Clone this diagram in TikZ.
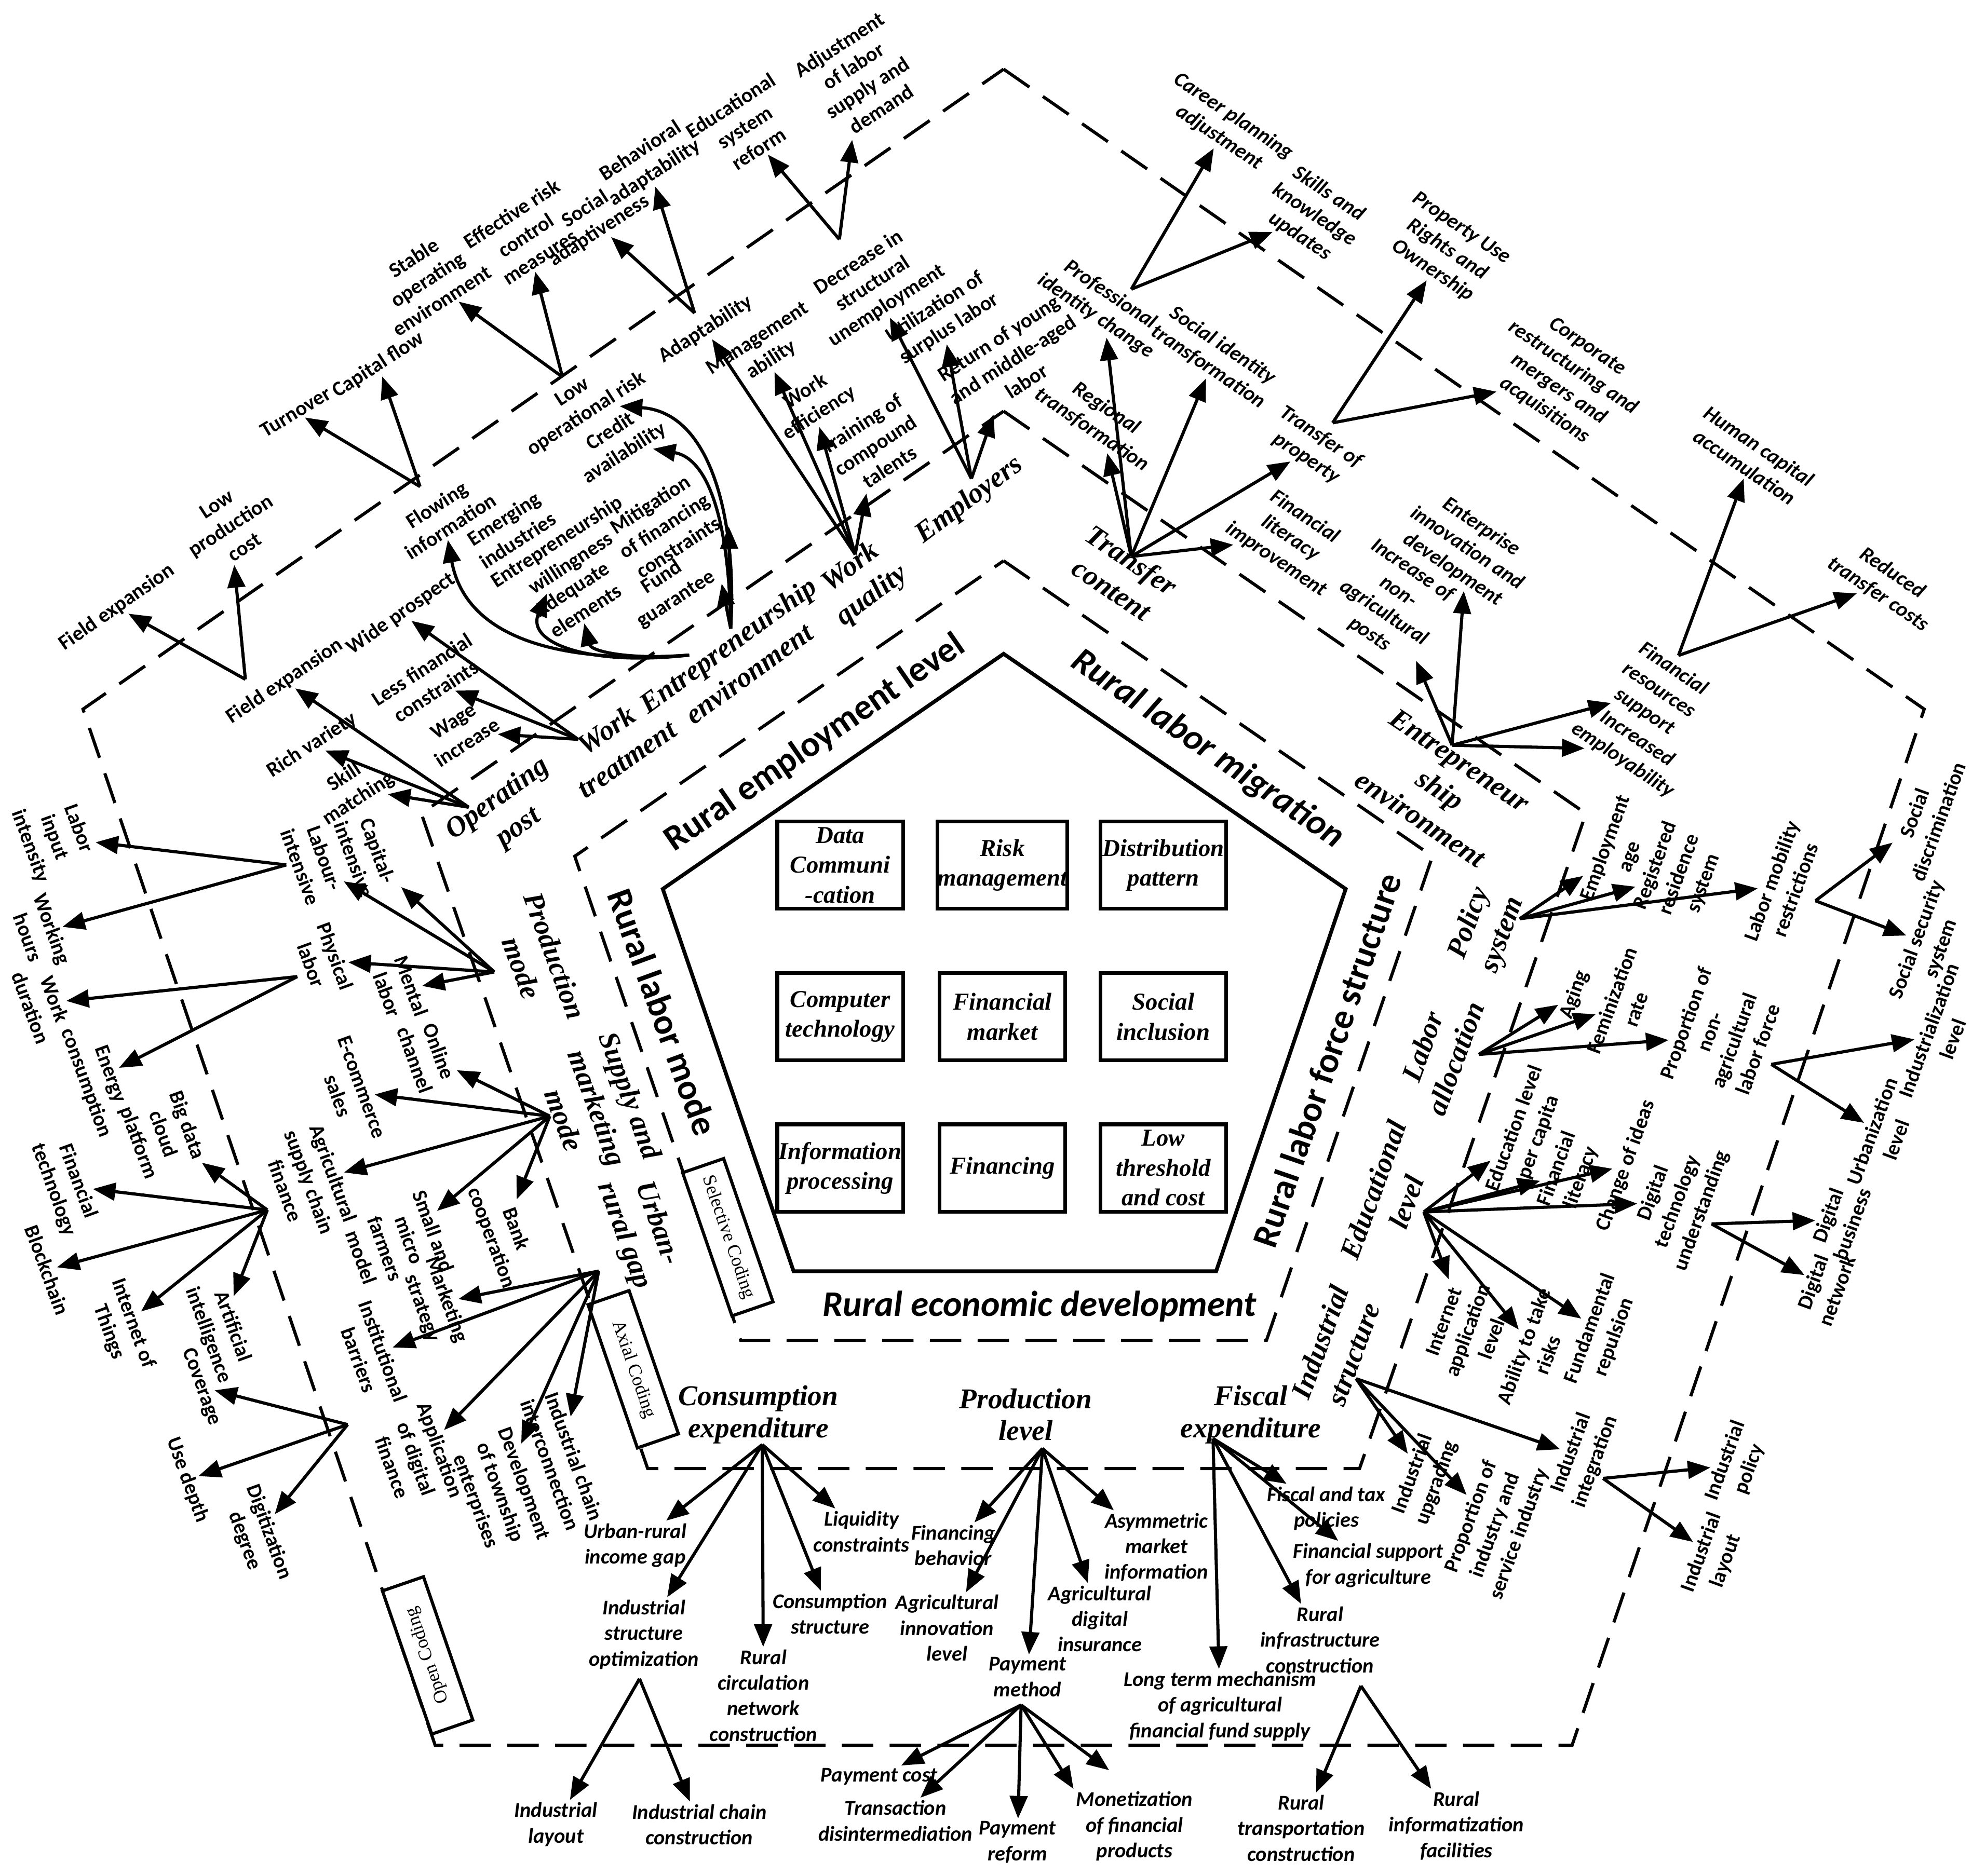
\documentclass[tikz,border=0pt]{standalone}
\usepackage{fontspec}
\usetikzlibrary{arrows.meta}
\newfontfamily\carlito{Carlito}
\newfontfamily\tnr{Liberation Serif}
\newcommand\labf{\carlito\bfseries\fontsize{9.5}{11.6}\selectfont}
\newcommand\labfi{\carlito\bfseries\itshape\fontsize{9.5}{11.6}\selectfont}
\newcommand\catf{\tnr\bfseries\itshape\fontsize{13}{16}\selectfont}
\newcommand\catbf{\tnr\bfseries\itshape\fontsize{13}{14.5}\selectfont}
\newcommand\bigf{\carlito\bfseries\fontsize{16.3}{18}\selectfont}
\newcommand\bigfi{\carlito\bfseries\itshape\fontsize{16.3}{18}\selectfont}
\newcommand\cellf{\tnr\bfseries\itshape\fontsize{11}{13.5}\selectfont}
\newcommand\codef{\tnr\fontsize{8.5}{10}\selectfont}
\tikzset{
    LB/.style ={font=\labf, align=center, inner sep=1pt},
    LI/.style ={font=\labfi, align=center, inner sep=1pt},
    CT/.style ={font=\catf, align=center, inner sep=1pt},
    CTB/.style ={font=\catbf, align=center, inner sep=1pt},
    BG/.style ={font=\bigf, inner sep=1pt},
    BGI/.style ={font=\bigfi, inner sep=1pt},
    BX/.style ={draw, line width=0.06cm, minimum width=2cm, minimum height=1.39cm, font=\cellf, align=center, inner sep=0pt},
    CD/.style ={draw, fill=white, line width=0.05cm, minimum width=2.41cm, minimum height=0.69cm, font=\codef, inner sep=0pt},
    AR/.style ={line width=0.05cm, -{Triangle[length=0.36cm, width=0.28cm]}},
    DS/.style ={line width=0.05cm, dash pattern=on 0.5cm off 0.26cm},
    SO/.style ={line width=0.06cm}}
\begin{document}
\begin{tikzpicture}[x=0.02cm,y=-0.02cm]
        \useasboundingbox (0,0) rectangle (1568,1492);
        \draw[DS] (798,55) -- (1530,564) -- (1250,1388) -- (346,1388) -- (66,564) -- cycle;
        \draw[DS] (798,327) -- (1261,647) -- (1081,1168) -- (515,1168) -- (335,647) -- cycle;
        \draw[DS] (798,446) -- (1139,681) -- (1007,1066) -- (589,1066) -- (457,681) -- cycle;
        \draw[SO] (798,520) -- (1070,707) -- (967,1011) -- (631,1011) -- (527,707) -- cycle;
        \node[CD,rotate=-71] (sc) at(578.7,984){Selective Coding};
        \node[CD,rotate=-71] (ac) at(503.5,1089){Axial Coding};
        \node[CD,rotate=109] (oc) at(340,1316.6){Open Coding};
        \node[BG,rotate=34.6] (rel) at(648,591){Rural employment level};
        \node[BGI,rotate=-34.6] (rlm) at(960,596){Rural labor migration};
        \node[BG,rotate=71] (rlf) at(1055,843){Rural labor force structure};
        \node[BG,rotate=-70] (rmo) at(527,805){Rural labor mode};
        \node[BGI] (red) at(826.6,1039){Rural economic development};
        \node[BX] (b1) at(668,688){Data\\Communi\\-cation};
        \node[BX] (b2) at(797,688){Risk\\management};
        \node[BX] (b3) at(925,688){Distribution\\pattern};
        \node[BX] (b4) at(668,808.5){Computer\\technology};
        \node[BX] (b5) at(797,808.5){Financial\\market};
        \node[BX] (b6) at(925,808.5){Social\\inclusion};
        \node[BX] (b7) at(668,929){Information\\processing};
        \node[BX] (b8) at(797,929){Financing};
        \node[BX] (b9) at(925,929){Low\\threshold\\and cost};
        \node[CT,rotate=35] (wt) at(490,592){Work\\treatment};
        \node[CT,rotate=36] (eel) at(587,524){Entrepreneurship\\environment};
        \node[CT,rotate=37] (wq) at(685,463){Work\\quality};
        \node[CT,rotate=37] (emp) at(771,398){Employers};
        \node[CT,rotate=36] (op) at(404,647){Operating\\post};
        \node[CT,rotate=-70] (pm) at(428,765){Production\\mode};
        \node[CT,rotate=-70] (smm) at(475,881){Supply and\\marketing\\mode};
        \node[CT,rotate=-70] (urg) at(509,978){Urban-\\rural gap};
        \node[CTB] (ce) at(603,1125){Consumption\\expenditure};
        \node[CTB] (pl) at(815.5,1125){Production\\level};
        \node[CTB] (fe) at(994.5,1125){Fiscal\\expenditure};
        \node[CT,rotate=70] (is) at(1062.7,1072){Industrial\\structure};
        \node[CT,rotate=70] (el) at(1105,951){Educational\\level};
        \node[CT,rotate=70] (la) at(1144,837){Labor\\allocation};
        \node[CT,rotate=70] (ps) at(1182,739){Policy\\system};
        \node[CT,rotate=-34] (eer) at(1145,628){Entrepreneur\\ship\\environment};
        \node[CT,rotate=-34] (tc) at(892,457){Transfer\\content};
        \coordinate (hWT) at(459.7,588);
        \coordinate (hOP) at(372.7,642);
        \coordinate (hEEa) at(581,500);
        \coordinate (hEEb) at(548,521);
        \coordinate (hWQ) at(680,441);
        \coordinate (hEM) at(772.4,380.7);
        \coordinate (hTC) at(899.5,442.6);
        \coordinate (hEER) at(1154.6,592.7);
        \coordinate (hPS) at(1208.3,730.7);
        \coordinate (hLA) at(1175.8,838.6);
        \coordinate (hEL) at(1132.1,963.9);
        \coordinate (hIS) at(1078.3,1096.5);
        \coordinate (hFE) at(964.5,1144.1);
        \coordinate (hPL) at(828.9,1152);
        \coordinate (hCE) at(606.1,1148.9);
        \coordinate (hUG) at(476,1010.9);
        \coordinate (hSM) at(437.2,887.7);
        \coordinate (hPM) at(393,773);
        \coordinate (hFX) at(195.1,540.3);
        \coordinate (hFI) at(334,387);
        \coordinate (hLR) at(447.2,299.8);
        \coordinate (hAD) at(552.3,249);
        \coordinate (hDS) at(667.4,190.4);
        \coordinate (hPI) at(899.5,230);
        \coordinate (hTP) at(1059.6,336.3);
        \coordinate (hFR) at(1334.6,521.3);
        \coordinate (hLM) at(1443.5,716.4);
        \coordinate (hPN) at(1408.4,846.5);
        \coordinate (hDT) at(1360.9,973.4);
        \coordinate (hII) at(1274.6,1175.8);
        \coordinate (hRI) at(1082.1,1340.8);
        \coordinate (hPY) at(811.9,1356);
        \coordinate (hIO) at(508.5,1335.1);
        \coordinate (hDF) at(276.4,1133);
        \coordinate (hAS) at(212.6,962.3);
        \coordinate (hLI) at(227.6,687.9);
        \coordinate (hPH) at(236.4,776.7);
        \node[LB,rotate=35] (fexo) at(93,483){Field expansion};
        \node[LB,rotate=33] (lpc) at(183.2,418){Low\\production\\cost};
        \node[LB,rotate=34] (fexi) at(226.4,541.8){Field expansion};
        \node[LB,rotate=31] (turn) at(235,327.6){Turnover};
        \node[LB,rotate=33] (capf) at(300.8,290.3){Capital flow};
        \node[LB,rotate=33] (flow) at(352.6,410){Flowing\\information};
        \node[LB,rotate=33] (stab) at(340,222){Stable\\operating\\environment};
        \node[LB,rotate=33] (effr) at(418,187){Effective risk\\control\\measures};
        \node[LB,rotate=33] (lowr) at(461,321){Low\\operational risk};
        \node[LB,rotate=33] (soca) at(471,175){Social\\adaptiveness};
        \node[LB,rotate=33] (beha) at(515,129){Behavioral\\adaptability};
        \node[LB,rotate=33] (adap) at(561,262){Adaptability};
        \node[LB,rotate=33] (edus) at(592,101){Educational\\system\\reform};
        \node[LB,rotate=33] (adjl) at(684,61){Adjustment\\of labor\\supply and\\demand};
        \node[LB,rotate=33] (mana) at(608,278){Management\\ability};
        \node[LB,rotate=33] (decr) at(694,226){Decrease in\\structural\\unemployment};
        \node[LB,rotate=33] (wkef) at(646,320){Work\\efficiency};
        \node[LB,rotate=33] (trai) at(696,354){Training of\\compound\\talents};
        \node[LB,rotate=33] (util) at(749,253){Utilization of\\surplus labor};
        \node[LB,rotate=33] (retn) at(805,286){Return of young\\and middle-aged\\labor};
        \node[LB,rotate=33] (cred) at(491,352){Credit\\availability};
        \node[LB,rotate=33] (miti) at(528,418){Mitigation\\of financing\\constraints};
        \node[LB,rotate=33] (fund) at(532,468){Fund\\guarantee};
        \node[LB,rotate=33] (adeq) at(460,477){Adequate\\elements};
        \node[LB,rotate=33] (will) at(448.5,440){Entrepreneurship\\willingness};
        \node[LB,rotate=33] (emer) at(406,421){Emerging\\industries};
        \node[LB,rotate=35] (wide) at(319,488){Wide prospect};
        \node[LB,rotate=33] (lesf) at(341,541){Less financial\\constraints};
        \node[LB,rotate=33] (wage) at(366,582){Wage\\increase};
        \node[LB,rotate=33] (rich) at(248,592.7){Rich variety};
        \node[LB,rotate=33] (skma) at(279.5,627){Skill\\matching};
        \node[LI,rotate=-34] (regt) at(874,333){Regional\\transformation};
        \node[LI,rotate=-34] (prof) at(877,243){Professional\\identity change};
        \node[LI,rotate=-34] (soci) at(966.5,283){Social identity\\transformation};
        \node[LI,rotate=-34] (tpro) at(1044.5,356){Transfer of\\property};
        \node[LI,rotate=-34] (finl) at(1026,428){Financial\\literacy\\improvement};
        \node[LI,rotate=-34] (carp) at(975,101){Career planning\\adjustment};
        \node[LI,rotate=-34] (skku) at(1045,171){Skills and\\knowledge\\updates};
        \node[LI,rotate=-34] (prop) at(1150.5,198.6){Property Use\\Rights and\\Ownership};
        \node[LI,rotate=-34] (corp) at(1245,301){Corporate\\restructuring and\\mergers and\\acquisitions};
        \node[LI,rotate=-34] (incp) at(1106,479){Increase of\\non-\\agricultural\\posts};
        \node[LI,rotate=-34] (entp) at(1166.5,436){Enterprise\\innovation and\\development};
        \node[LI,rotate=-34] (finr) at(1319,549){Financial\\resources\\support};
        \node[LI,rotate=-34] (ince) at(1296,596){Increased\\employability};
        \node[LI,rotate=-34] (humc) at(1393,363){Human capital\\accumulation};
        \node[LI,rotate=-34] (redt) at(1499,464){Reduced\\transfer costs};
        \node[LB,rotate=70] (empa) at(1286.5,678){Employment\\age};
        \node[LB,rotate=70] (regr) at(1335.5,695.5){Registered\\residence\\system};
        \node[LB,rotate=70] (labm) at(1418,704){Labor mobility\\restrictions};
        \node[LB,rotate=70] (socd) at(1531.6,650){Social\\discrimination};
        \node[LB,rotate=70] (socs) at(1534,751){Social security\\system};
        \node[LB,rotate=70] (agin) at(1252,791){Aging};
        \node[LB,rotate=70] (femi) at(1291,799){Feminization\\rate};
        \node[LB,rotate=70] (pnon) at(1369,824){Proportion of\\non-\\agricultural\\labor force};
        \node[LB,rotate=70] (indz) at(1543,823){Industrialization\\level};
        \node[LB,rotate=70] (urbz) at(1498,903){Urbanization\\level};
        \node[LB,rotate=70] (edpc) at(1214,901){Education level\\per capita};
        \node[LB,rotate=70] (fili) at(1247.6,933){Financial\\literacy};
        \node[LB,rotate=70] (chid) at(1293,927){Change of ideas};
        \node[LB,rotate=70] (digt) at(1334,956){Digital\\technology\\understanding};
        \node[LB,rotate=70] (digb) at(1463,970){Digital\\business};
        \node[LB,rotate=70] (dign) at(1451,1023){Digital\\network};
        \node[LB,rotate=70] (inet) at(1167,1058){Internet\\application\\level};
        \node[LB,rotate=70] (abil) at(1221,1074){Ability to take\\risks};
        \node[LB,rotate=70] (fure) at(1274,1060){Fundamental\\repulsion};
        \node[LB,rotate=70] (indu) at(1133,1176){Industrial\\upgrading};
        \node[LB,rotate=70] (pind) at(1189,1213){Proportion of\\industry and\\service industry};
        \node[LB,rotate=70] (indi) at(1259,1159){Industrial\\integration};
        \node[LB,rotate=70] (indp) at(1381.5,1165){Industrial\\policy};
        \node[LB,rotate=70] (indl) at(1362.7,1238){Industrial\\layout};
        \node[LI] (urin) at(505,1229){Urban-rural\\income gap};
        \node[LI] (isop) at(512,1300){Industrial\\structure\\optimization};
        \node[LI] (rcir) at(607,1348.4){Rural\\circulation\\network\\construction};
        \node[LI] (cstr) at(660,1283.4){Consumption\\structure};
        \node[LI] (liqc) at(685,1218){Liquidity\\constraints};
        \node[LI] (ilay) at(442,1451){Industrial\\layout};
        \node[LI] (icco) at(556,1451){Industrial chain\\construction};
        \node[LI] (finb) at(758,1229){Financing\\behavior};
        \node[LI] (agri) at(753,1294.8){Agricultural\\innovation\\level};
        \node[LI] (paym) at(817,1333.7){Payment\\method};
        \node[LI] (agdi) at(874.5,1287.4){Agricultural\\digital\\insurance};
        \node[LI] (asym) at(919.5,1230.5){Asymmetric\\market\\information};
        \node[LI] (payc) at(699,1413){Payment cost};
        \node[LI] (tran) at(712,1448){Transaction\\disintermediation};
        \node[LI] (payr) at(809,1465){Payment\\reform};
        \node[LI] (mone) at(902,1452.4){Monetization\\of financial\\products};
        \node[LI] (fisc) at(1054.6,1199.6){Fiscal and tax\\policies};
        \node[LI] (fins) at(1088,1245){Financial support\\for agriculture};
        \node[LI] (rinf) at(1049.6,1304){Rural\\infrastructure\\construction};
        \node[LI] (ltm) at(970,1357){Long term mechanism\\of agricultural\\financial fund supply};
        \node[LI] (rtra) at(1034.6,1454){Rural\\transportation\\construction};
        \node[LI] (rinz) at(1158,1452){Rural\\informatization\\facilities};
        \node[LB,rotate=-70] (capi) at(291,680){Capital-\\intensive};
        \node[LB,rotate=-70] (labi) at(248.5,686){Labour-\\intensive};
        \node[LB,rotate=-70] (phys) at(257,764){Physical\\labor};
        \node[LB,rotate=-70] (ment) at(317.5,787.6){Mental\\labor};
        \node[LB,rotate=-70] (onli) at(339.5,839.5){Online\\channel};
        \node[LB,rotate=-70] (ecom) at(278,868){E-commerce\\sales};
        \node[LB,rotate=-70] (agsc) at(246,940){Agricultural\\supply chain\\finance};
        \node[LB,rotate=-70] (smfm) at(316,989.5){Small and\\micro\\farmers\\model};
        \node[LB,rotate=-70] (bank) at(400,981){Bank\\cooperation};
        \node[LB,rotate=-70] (mkts) at(345,1037){Marketing\\strategy};
        \node[LB,rotate=-70] (inst) at(295,1078){Institutional\\barriers};
        \node[LB,rotate=-70] (appd) at(331,1160){Application\\of digital\\finance};
        \node[LB,rotate=-70] (devt) at(397,1187){Development\\of township\\enterprises};
        \node[LB,rotate=-70] (icin) at(447,1161.5){Industrial chain\\interconnection};
        \node[LB,rotate=-70] (lini) at(43,666){Labor\\input\\intensity};
        \node[LB,rotate=-70] (wkho) at(32,742){Working\\hours};
        \node[LB,rotate=-70] (wdur) at(34,798){Work\\duration};
        \node[LB,rotate=-70] (enco) at(77.5,858){Energy\\consumption};
        \node[LB,rotate=-70] (bigd) at(129,902){Big data\\cloud\\platform};
        \node[LB,rotate=-70] (fint) at(52,943){Financial\\technology};
        \node[LB,rotate=-70] (bloc) at(37.5,1010){Blockchain};
        \node[LB,rotate=-70] (iot) at(96,1056){Internet of\\Things};
        \node[LB,rotate=-70] (arti) at(175,1058.5){Artificial\\intelligence};
        \node[LB,rotate=-70] (cove) at(160,1103){Coverage};
        \node[LB,rotate=-70] (used) at(149,1177){Use depth};
        \node[LB,rotate=-70] (digi) at(204,1222){Digitization\\degree};
        \draw[AR] (hWT) --(wide);
        \draw[AR] (hWT) --(lesf);
        \draw[AR] (hWT) --(wage);
        \draw[AR] (hOP) --(fexi);
        \draw[AR] (hOP) --(rich);
        \draw[AR] (hOP) --(skma);
        \draw[AR] (hEEa) .. controls (586,420) and (568,328) .. (lowr);
        \draw[AR] (hEEa) .. controls (580,420) and (565,365) .. (cred);
        \draw[AR] (hEEa) --(miti.south east);
        \draw[AR] (hEEa) --(fund.south east);
        \draw[AR] (hEEb) .. controls (500,525) and (470,518) .. (adeq);
        \draw[AR] (hEEb) .. controls (470,530) and (418,512) .. (will);
        \draw[AR] (hEEb) .. controls (420,530) and (368,495) .. (flow);
        \draw[AR] (hWQ) --(adap);
        \draw[AR] (hWQ) --(mana);
        \draw[AR] (hWQ) --(wkef);
        \draw[AR] (hWQ) --(trai);
        \draw[AR] (hEM) --(decr);
        \draw[AR] (hEM) --(util);
        \draw[AR] (hEM) --(retn);
        \draw[AR] (hTC) --(regt);
        \draw[AR] (hTC) --(prof);
        \draw[AR] (hTC) --(soci);
        \draw[AR] (hTC) --(tpro);
        \draw[AR] (hTC) --(finl);
        \draw[AR] (hEER) --(incp);
        \draw[AR] (hEER) --(entp);
        \draw[AR] (hEER) --(finr);
        \draw[AR] (hEER) --(ince);
        \draw[AR] (hPS) --(empa);
        \draw[AR] (hPS) --(regr);
        \draw[AR] (hPS) --(labm);
        \draw[AR] (hLA) --(agin);
        \draw[AR] (hLA) --(femi);
        \draw[AR] (hLA) --(pnon);
        \draw[AR] (hEL) --(edpc);
        \draw[AR] (hEL) --(fili);
        \draw[AR] (hEL) --(chid);
        \draw[AR] (hEL) --(digt);
        \draw[AR] (hEL) --(inet);
        \draw[AR] (hEL) --(abil);
        \draw[AR] (hEL) --(fure);
        \draw[AR] (hIS) --(indu);
        \draw[AR] (hIS) --(pind);
        \draw[AR] (hIS) --(indi);
        \draw[AR] (hFE) --(fisc);
        \draw[AR] (hFE) --(fins);
        \draw[AR] (hFE) --(rinf);
        \draw[AR] (hFE) --(ltm);
        \draw[AR] (hPL) --(finb);
        \draw[AR] (hPL) --(agri);
        \draw[AR] (hPL) --(paym);
        \draw[AR] (hPL) --(agdi);
        \draw[AR] (hPL) --(asym);
        \draw[AR] (hCE) --(urin);
        \draw[AR] (hCE) --(isop);
        \draw[AR] (hCE) --(rcir);
        \draw[AR] (hCE) --(cstr);
        \draw[AR] (hCE) --(liqc);
        \draw[AR] (hUG) --(mkts);
        \draw[AR] (hUG) --(inst);
        \draw[AR] (hUG) --(appd);
        \draw[AR] (hUG) --(devt);
        \draw[AR] (hUG) --(icin);
        \draw[AR] (hSM) --(onli);
        \draw[AR] (hSM) --(ecom);
        \draw[AR] (hSM) --(agsc);
        \draw[AR] (hSM) --(smfm);
        \draw[AR] (hSM) --(bank);
        \draw[AR] (hPM) --(capi);
        \draw[AR] (hPM) --(labi);
        \draw[AR] (hPM) --(phys);
        \draw[AR] (hPM) --(ment);
        \draw[AR] (hFX) --(fexo);
        \draw[AR] (hFX) --(lpc);
        \draw[AR] (hFI) --(turn);
        \draw[AR] (hFI) --(capf);
        \draw[AR] (hLR) --(stab);
        \draw[AR] (hLR) --(effr);
        \draw[AR] (hAD) --(soca);
        \draw[AR] (hAD) --(beha);
        \draw[AR] (hDS) --(edus);
        \draw[AR] (hDS) --(adjl);
        \draw[AR] (hPI) --(carp);
        \draw[AR] (hPI) --(skku);
        \draw[AR] (hTP) --(prop);
        \draw[AR] (hTP) --(corp);
        \draw[AR] (hFR) --(humc);
        \draw[AR] (hFR) --(redt);
        \draw[AR] (hLM) --(socd);
        \draw[AR] (hLM) --(socs);
        \draw[AR] (hPN) --(indz);
        \draw[AR] (hPN) --(urbz);
        \draw[AR] (hDT) --(digb);
        \draw[AR] (hDT) --(dign);
        \draw[AR] (hII) --(indp);
        \draw[AR] (hII) --(indl);
        \draw[AR] (hRI) --(rtra);
        \draw[AR] (hRI) --(rinz);
        \draw[AR] (hPY) --(payc);
        \draw[AR] (hPY) --(tran);
        \draw[AR] (hPY) --(payr);
        \draw[AR] (hPY) --(mone.north west);
        \draw[AR,shorten >=0.5cm] (hPY) --(mone.north);
        \draw[AR] (hIO) --(ilay);
        \draw[AR] (hIO) --(icco);
        \draw[AR] (hDF) --(cove);
        \draw[AR] (hDF) --(used);
        \draw[AR] (hDF) --(digi);
        \draw[AR] (hAS) --(fint);
        \draw[AR] (hAS) --(bigd);
        \draw[AR] (hAS) --(bloc);
        \draw[AR] (hAS) --(iot);
        \draw[AR] (hAS) --(arti);
        \draw[AR] (hLI) --(lini);
        \draw[AR] (hLI) --(wkho);
        \draw[AR] (hPH) --(wdur);
        \draw[AR] (hPH) --(enco);
\end{tikzpicture}
\end{document}
